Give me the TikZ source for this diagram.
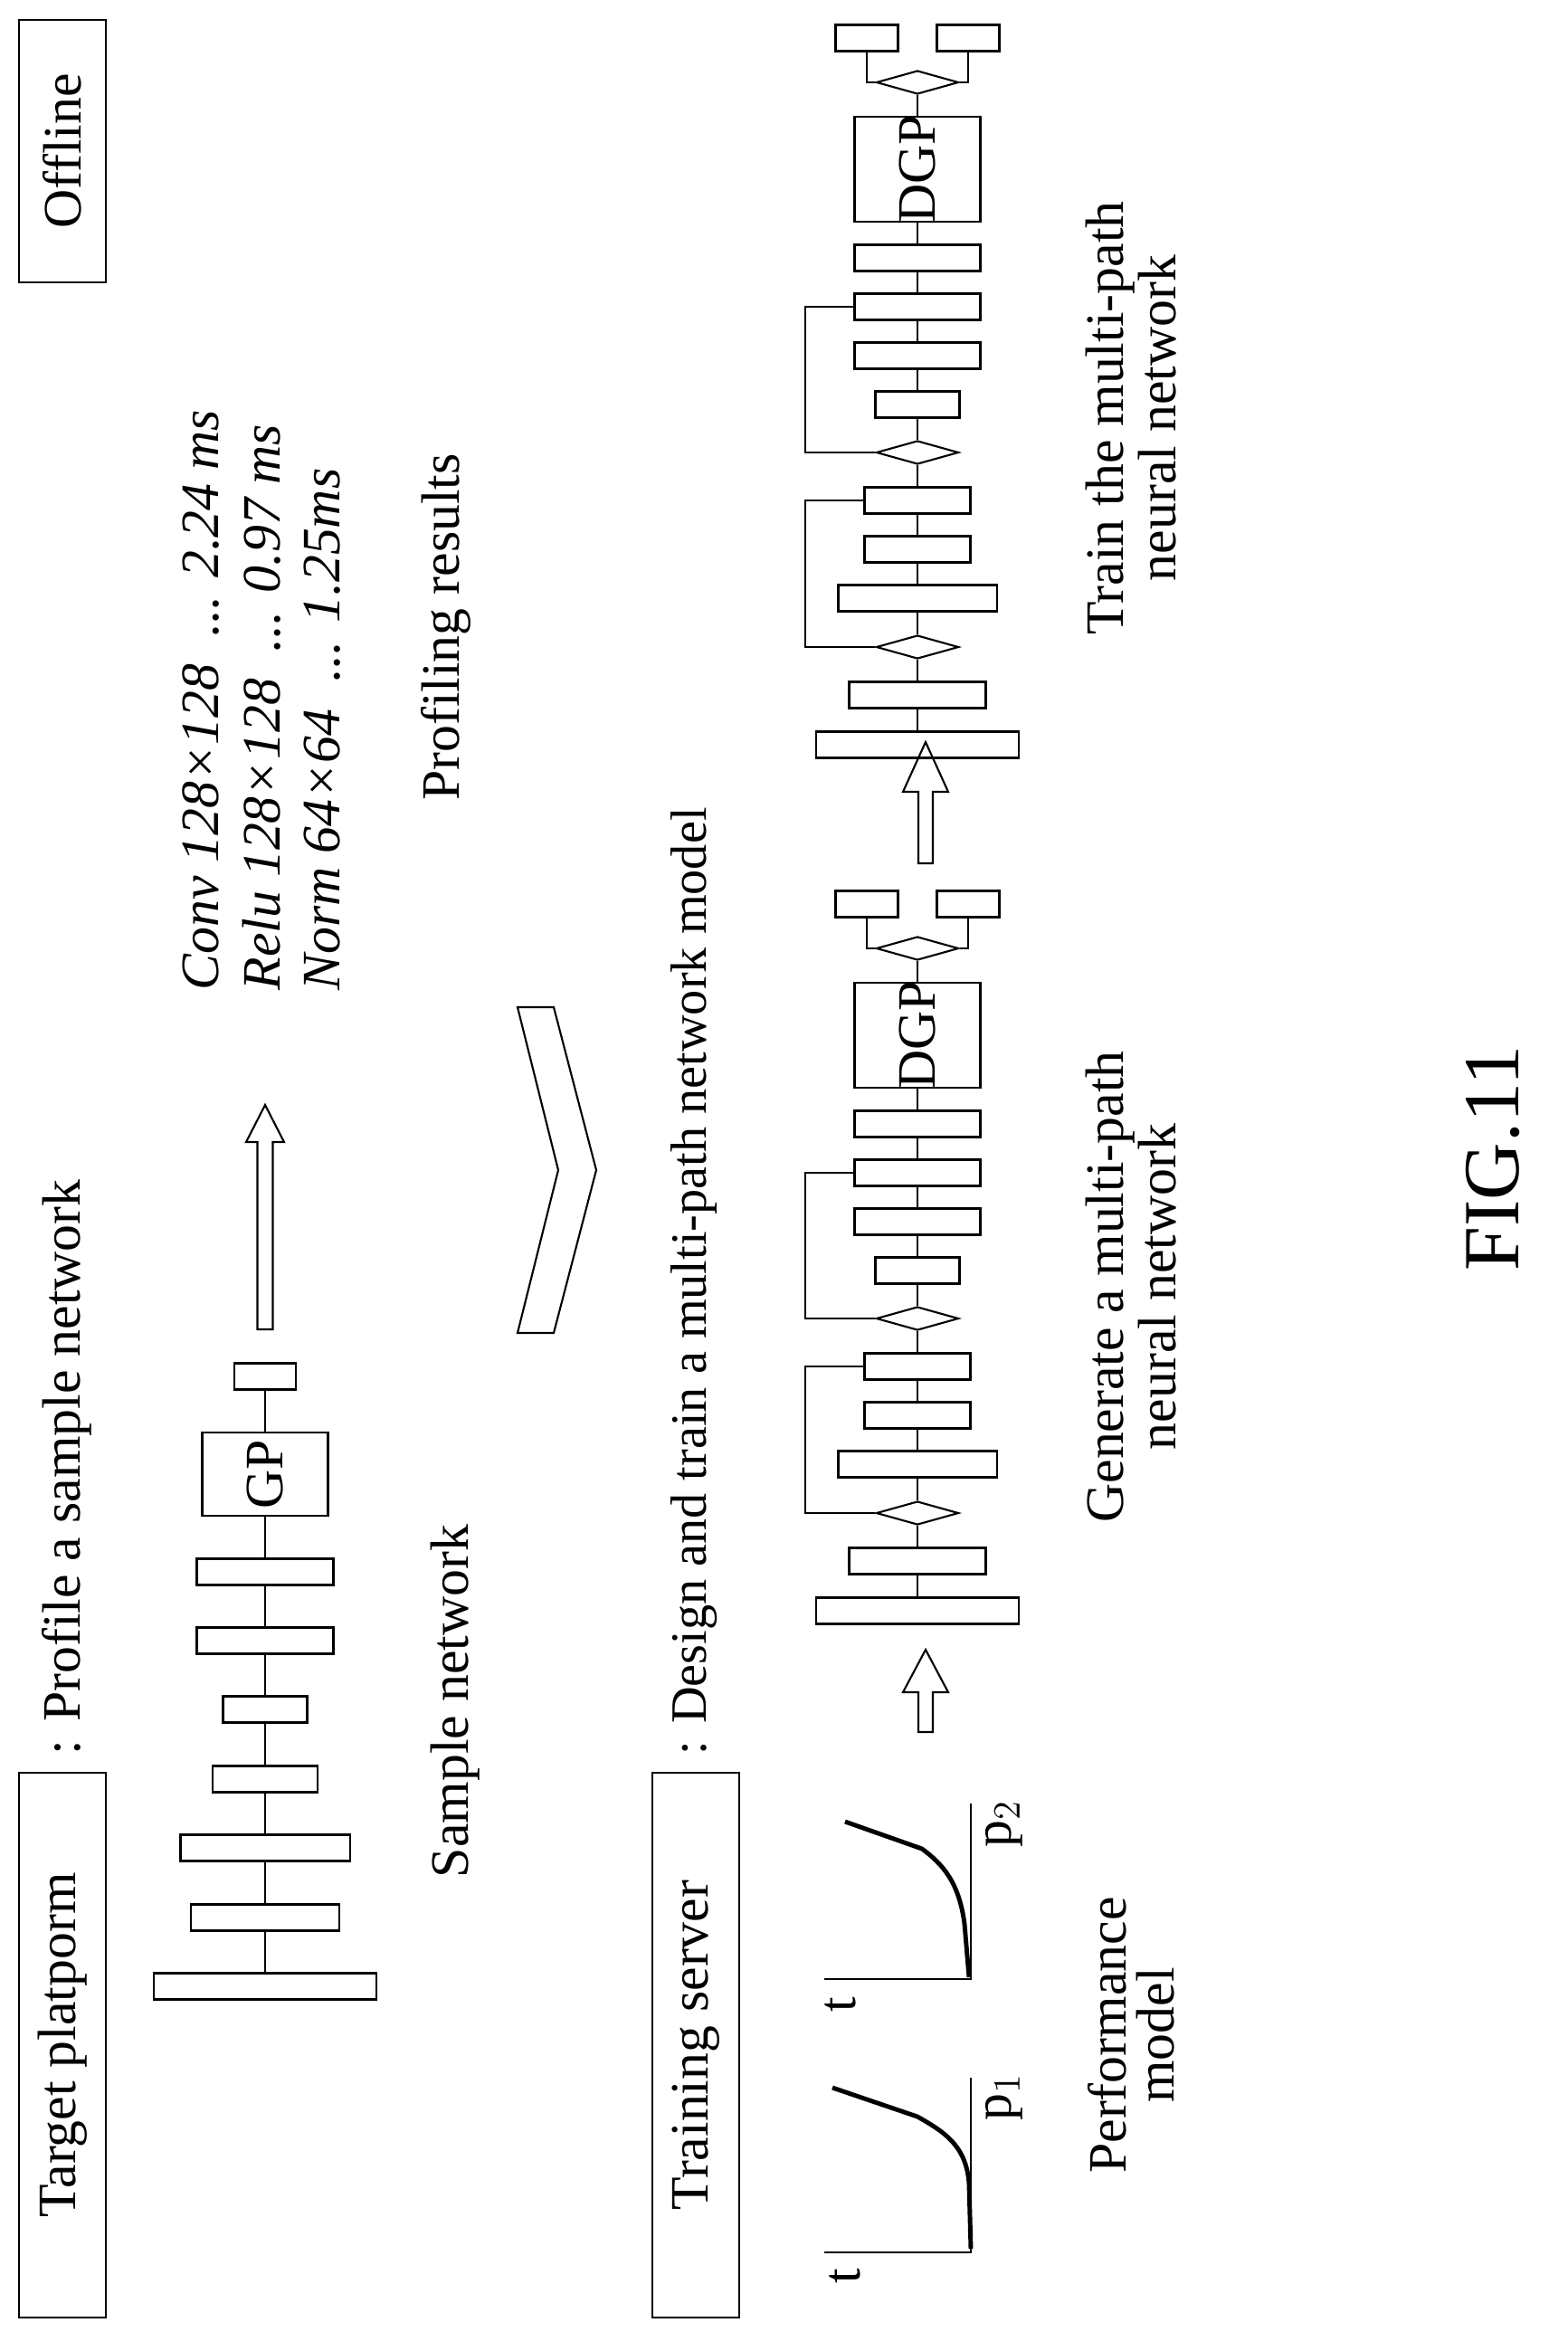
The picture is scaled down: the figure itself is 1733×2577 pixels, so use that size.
\documentclass[tikz,border=0pt]{standalone}
\usepackage{fontspec}
\setmainfont{Liberation Serif}
\usetikzlibrary{shapes.geometric}
\newcommand\txtsize{\fontsize{17}{15}\selectfont}
\newcommand\figsize{\fontsize{25}{25}\selectfont}
\tikzset{
    layer/.style={draw,line width=0.6pt,minimum height=0.29cm,inner sep=0},
    split/.style={draw,line width=0.6pt,diamond,aspect=3.5,minimum width=0.91cm,minimum height=0.26cm,inner sep=0},
    lbl/.style={rotate=90,font=\txtsize,inner sep=0,align=center},
    link/.style={line width=0.6pt},
    curve/.style={line width=1.4pt},
}
% hollow upward block arrow: x, tip, head base, tail, half shaft, half head
\newcommand\uparr[6]{\draw[link] (#1,#2) -- (#1+#6,#3) -- (#1+#5,#3) -- (#1+#5,#4) -- (#1-#5,#4) -- (#1-#5,#3) -- (#1-#6,#3) -- cycle;}
\begin{document}
\begin{tikzpicture}[x=0.01cm,y=-0.01cm]
\useasboundingbox (0,0) rectangle (1733,2577);
% headers
\node[draw,link,minimum width=0.96cm,minimum height=2.9cm] (offbox) at (69,167) {};
\node[lbl] (off) at (offbox) {Offline};
\node[draw,link,minimum width=0.96cm,minimum height=6.02cm] (tpbox) at (69,2260) {};
\node[lbl] (tp) at (tpbox) {Target platporm};
\node[lbl,anchor=west] (tptxt) at (74,1940) {: Profile a sample network};
\node[draw,link,minimum width=0.96cm,minimum height=6.02cm] (tsbox) at (769,2260) {};
\node[lbl] (ts) at (tsbox) {Training server};
\node[lbl,anchor=west,font=\fontsize{16}{15}\selectfont] (tstxt) at (767,1940) {: Design and train a multi-path network model};
% sample network
\node[layer,minimum width=2.46cm] (s1) at (293,2195) {};
\node[layer,minimum width=1.64cm] (s2) at (293,2119) {};
\node[layer,minimum width=1.87cm] (s3) at (293,2042) {};
\node[layer,minimum width=1.16cm] (s4) at (293,1966) {};
\node[layer,minimum width=0.93cm] (s5) at (293,1889) {};
\node[layer,minimum width=1.51cm] (s6) at (293,1813) {};
\node[layer,minimum width=1.51cm] (s7) at (293,1737) {};
\node[layer,minimum width=1.39cm,minimum height=0.92cm] (gp) at (293,1629) {};
\node[lbl] at (gp) {GP};
\node[layer,minimum width=0.68cm] (s9) at (293,1521) {};
\draw[link] (s1) -- (s2) -- (s3) -- (s4) -- (s5) -- (s6) -- (s7) -- (gp) -- (s9);
\node[lbl] (sname) at (503,1880) {Sample network};
\uparr{293}{1221}{1262}{1469}{8.5}{21}
% profiling results
\node[lbl,anchor=west] (conv) at (222,1095) {\itshape Conv 128×128\ \ ... 2.24 ms};
\node[lbl,anchor=west] (relu) at (289,1095) {\itshape Relu 128×128\ \ ... 0.97 ms};
\node[lbl,anchor=west] (norm) at (356,1095) {\itshape Norm 64×64\ \ ... 1.25ms};
\node[lbl] (prof) at (493,693) {Profiling results};
\draw[link] (572,1113) -- (612,1113) -- (659,1293) -- (612,1473) -- (572,1473) -- (617,1293) -- cycle;
% performance model
\draw[link] (911,2489) -- (1073,2489) -- (1073,2296);
\draw[curve] (1073,2485) -- (1071,2413) .. controls (1068,2370) and (1042,2355) .. (1014,2339) -- (920,2307);
\node[lbl] at (934,2515) {t};
\node[lbl] at (1110,2317) {p$_1$};
\draw[link] (911,2187) -- (1073,2187) -- (1073,1993);
\draw[curve] (1071,2185) -- (1066,2126) .. controls (1060,2080) and (1042,2060) .. (1019,2043) -- (934,2013);
\node[lbl] at (929,2215) {t};
\node[lbl] at (1110,2015) {p$_2$};
\node[lbl] (perf) at (1250,2249) {Performance\\model};
\uparr{1023}{1823}{1870}{1914}{8}{25}
\uparr{1023}{820}{875}{954}{8}{25}
% multi-path networks
\foreach \dy/\pfx in {0/g-,957/t-}{
\begin{scope}[yshift=\dy*0.01cm,name prefix=\pfx]
\node[layer,minimum width=2.23cm] (m1) at (1014,1780) {};
\node[layer,minimum width=1.51cm] (m2) at (1014,1725) {};
\node[split] (d1) at (1014,1672) {};
\node[layer,minimum width=1.75cm] (m3) at (1014,1618) {};
\node[layer,minimum width=1.17cm] (m4) at (1014,1564) {};
\node[layer,minimum width=1.17cm] (m5) at (1014,1510) {};
\node[split] (d2) at (1014,1457) {};
\node[layer,minimum width=0.93cm] (m6) at (1014,1404) {};
\node[layer,minimum width=1.39cm] (m7) at (1014,1350) {};
\node[layer,minimum width=1.39cm] (m8) at (1014,1296) {};
\node[layer,minimum width=1.39cm] (m9) at (1014,1242) {};
\node[layer,minimum width=1.39cm,minimum height=1.16cm] (dgp) at (1014,1144) {};
\node[lbl] at (dgp) {DGP};
\node[split] (d3) at (1014,1048) {};
\node[layer,minimum width=0.69cm] (ol) at (958,999) {};
\node[layer,minimum width=0.69cm] (or) at (1070,999) {};
\draw[link] (m1) -- (m2) -- (d1) -- (m3) -- (m4) -- (m5) -- (d2) -- (m6) -- (m7) -- (m8) -- (m9) -- (dgp) -- (d3);
\draw[link] (d3.west) -| (ol);
\draw[link] (d3.east) -| (or);
\draw[link] (m8.west) -- ++(-53,0) |- (d2.west);
\draw[link] (m5.west) -- ++(-64,0) |- (d1.west);
\end{scope}
}
\node[lbl] (gen) at (1250,1422) {Generate a multi-path\\neural network};
\node[lbl] (train) at (1250,462) {Train the multi-path\\neural network};
\node[lbl,font=\figsize] (fig) at (1650,1280) {FIG.11};
\end{tikzpicture}
\end{document}
